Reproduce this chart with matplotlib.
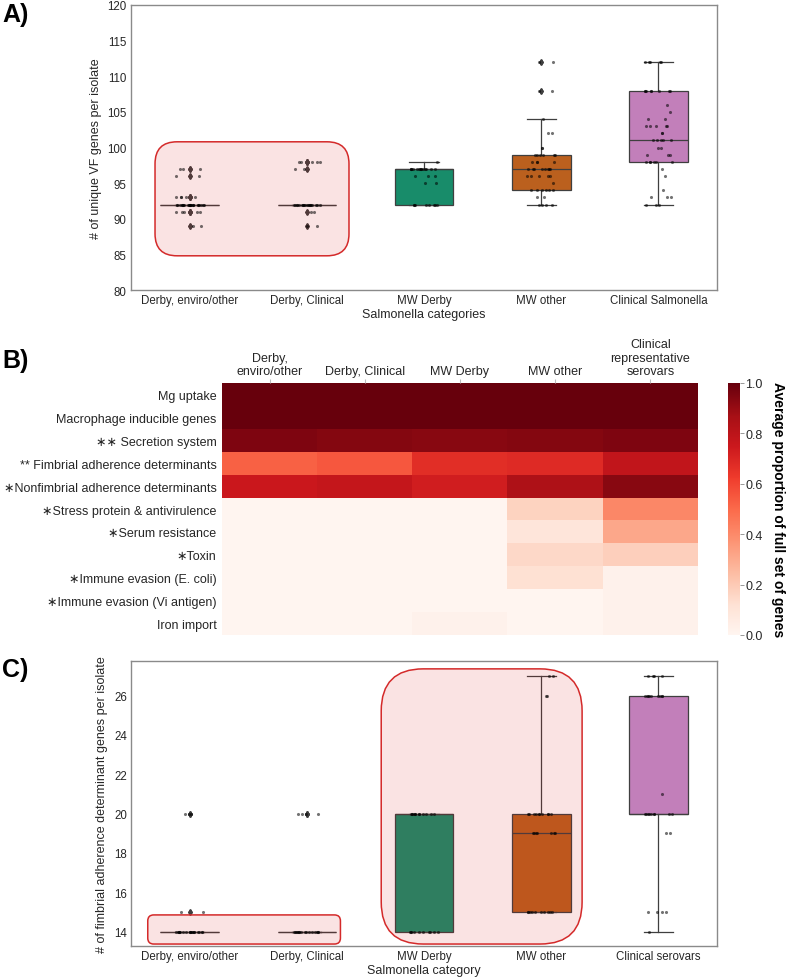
import numpy as np
import matplotlib
matplotlib.use("Agg")
import matplotlib.pyplot as plt
from matplotlib.patches import FancyBboxPatch

plt.rcParams['font.family'] = ['Liberation Sans', 'DejaVu Sans']

# ---------------- Data ----------------
# Panel A: unique VF genes per isolate (value / count pairs)
a_categories = ["Derby, enviro/other", "Derby, Clinical", "MW Derby", "MW other", "Clinical Salmonella"]
a_values = [
    [89, 91, 92, 93, 96, 97],
    [89, 91, 92, 97, 98],
    [92, 95, 96, 97, 98],
    [92, 93, 94, 95, 96, 97, 98, 99, 100, 102, 104, 108, 112],
    [92, 93, 94, 96, 97, 98, 99, 100, 101, 102, 103, 104, 105, 106, 108, 112],
]
a_counts = [
    [2, 5, 25, 5, 2, 3],
    [2, 2, 20, 2, 5],
    [8, 2, 3, 14, 1],
    [4, 2, 6, 1, 5, 8, 4, 6, 2, 2, 1, 2, 2],
    [3, 3, 1, 1, 1, 6, 3, 2, 5, 2, 5, 2, 1, 1, 8, 5],
]

# Panel B: heatmap of average proportion of full gene set
b_rows = ["Mg uptake", "Macrophage inducible genes", "\u2217\u2217 Secretion system",
          "** Fimbrial adherence determinants", "\u2217Nonfimbrial adherence determinants",
          "\u2217Stress protein & antivirulence", "\u2217Serum resistance", "\u2217Toxin",
          "\u2217Immune evasion (E. coli)", "\u2217Immune evasion (Vi antigen)", "Iron import"]
b_cols = ["Derby,\nenviro/other", "Derby, Clinical", "MW Derby", "MW other",
          "Clinical\nrepresentative\nserovars"]
b_values = [
    [1.00, 1.00, 1.00, 1.00, 1.00],
    [1.00, 1.00, 1.00, 1.00, 1.00],
    [0.95, 0.94, 0.93, 0.94, 0.95],
    [0.52, 0.55, 0.67, 0.68, 0.78],
    [0.75, 0.77, 0.73, 0.84, 0.93],
    [0.00, 0.00, 0.00, 0.17, 0.41],
    [0.00, 0.00, 0.00, 0.09, 0.31],
    [0.00, 0.00, 0.00, 0.15, 0.18],
    [0.00, 0.00, 0.00, 0.12, 0.02],
    [0.00, 0.00, 0.00, 0.00, 0.02],
    [0.00, 0.00, 0.02, 0.00, 0.02],
]

# Panel C: fimbrial adherence determinant genes per isolate
c_categories = ["Derby, enviro/other", "Derby, Clinical", "MW Derby", "MW other", "Clinical serovars"]
c_values = [[14, 15, 20], [14, 20], [14, 20], [15, 19, 20, 26, 27], [14, 15, 19, 20, 21, 26, 27]]
c_counts = [[20, 2, 3], [16, 4], [10, 12], [10, 7, 10, 2, 2], [1, 4, 2, 9, 1, 9, 4]]

box_colors = ["#188c6a", "#bb601e", "#c27fba"]  # for MW Derby, MW other, Clinical

# ---------------- Figure ----------------
W, H = 795, 979
fig = plt.figure(figsize=(W / 100, H / 100), dpi=100)

def frac(l, t, r, b):
    return [l / W, 1 - b / H, (r - l) / W, (b - t) / H]

TXT = "#262626"
SPINE = "#8a8a8a"
EDGE = "#3f3f3f"

def box_strip(ax, cats, values, counts, jitter_seed):
    data = [np.repeat(v, c) for v, c in zip(values, counts)]
    pos = np.arange(len(cats))
    bp = ax.boxplot(data, positions=pos, widths=0.5, patch_artist=True,
                    whis=1.5, manage_ticks=False,
                    boxprops=dict(edgecolor=EDGE, linewidth=0.9),
                    medianprops=dict(color=EDGE, linewidth=0.9),
                    whiskerprops=dict(color=EDGE, linewidth=0.9),
                    capprops=dict(color=EDGE, linewidth=0.9),
                    flierprops=dict(marker='d', markersize=2.8, markerfacecolor=EDGE,
                                    markeredgecolor=EDGE, linestyle='none'))
    fills = ["white", "white"] + box_colors
    for patch, fc in zip(bp['boxes'], fills):
        patch.set_facecolor(fc)
        patch.set_zorder(2)
    rng = np.random.default_rng(jitter_seed)
    for i, d in enumerate(data):
        xj = i + rng.uniform(-0.12, 0.12, size=len(d))
        ax.scatter(xj, d, s=5, color="black", alpha=0.55, linewidths=0, zorder=5)
    ax.set_xticks(pos)
    ax.set_xticklabels(cats)
    ax.set_xlim(-0.5, len(cats) - 0.5)
    for s in ax.spines.values():
        s.set_color(SPINE)
        s.set_linewidth(1.0)
    ax.tick_params(length=0, labelsize=8.3, colors=TXT, pad=3)

def rounded_box(ax, x0, y0, x1, y1, radius_px):
    p0 = ax.transData.transform((0, 0))
    p1 = ax.transData.transform((1, 1))
    sx = p1[0] - p0[0]
    sy = p1[1] - p0[1]
    r = radius_px / sx
    patch = FancyBboxPatch((x0, y0), x1 - x0, y1 - y0,
                           boxstyle=f"round,pad=0,rounding_size={r}",
                           mutation_aspect=sx / sy,
                           facecolor=(0.86, 0.10, 0.10, 0.12),
                           edgecolor="#d42a2a", linewidth=1.1, zorder=4)
    ax.add_patch(patch)

# ----- Panel A -----
axA = fig.add_axes(frac(131, 6, 717, 291))
box_strip(axA, a_categories, a_values, a_counts, 7)
axA.set_ylim(80, 120)
axA.set_yticks(np.arange(80, 121, 5))
axA.set_ylabel("# of unique VF genes per isolate", fontsize=9, color=TXT, labelpad=4)
axA.set_xlabel("Salmonella categories", fontsize=9, color=TXT, labelpad=1)
rounded_box(axA, -0.295, 84.8, 1.36, 100.8, 22)

# ----- Panel B -----
axB = fig.add_axes(frac(222, 384, 698, 636))
im = axB.imshow(np.array(b_values), cmap="Reds", vmin=0, vmax=1, aspect="auto",
                interpolation="nearest")
axB.xaxis.tick_top()
axB.set_xticks(np.arange(len(b_cols)))
axB.set_xticklabels(b_cols, fontsize=9, color=TXT)
axB.set_yticks(np.arange(len(b_rows)))
axB.set_yticklabels(b_rows, fontsize=9, color=TXT)
axB.tick_params(axis='x', length=3, color="#bbbbbb", pad=1)
axB.tick_params(axis='y', length=0, pad=4)
for s in axB.spines.values():
    s.set_visible(False)

cax = fig.add_axes(frac(728, 384, 740, 636))
cb = fig.colorbar(im, cax=cax)
cb.outline.set_visible(False)
cb.set_ticks(np.arange(0, 1.01, 0.2))
cb.ax.tick_params(labelsize=9, colors=TXT, length=3, width=0.6, pad=1)
cb.ax.tick_params(color="#888888")
cb.set_label("Average proportion of full set of genes", rotation=270, fontsize=10,
             fontweight="bold", color="black", labelpad=16)

# ----- Panel C -----
axC = fig.add_axes(frac(131, 662, 717, 947))
box_strip(axC, c_categories, c_values, c_counts, 11)
axC.set_ylim(13.27, 27.76)
axC.set_yticks(np.arange(14, 27, 2))
axC.set_ylabel("# of fimbrial adherence determinant genes per isolate", fontsize=9,
               color=TXT, labelpad=4)
axC.set_xlabel("Salmonella category", fontsize=9, color=TXT, labelpad=1)
rounded_box(axC, -0.357, 13.37, 1.287, 14.85, 6)
rounded_box(axC, 1.635, 13.37, 3.349, 27.36, 42)

# ----- Panel labels -----
for lab, top in [("A)", 3), ("B)", 349), ("C)", 658)]:
    fig.text(2 / W, 1 - top / H, lab, fontsize=18, fontweight="bold", va="top", ha="left")

fig.savefig("out.png", dpi=100)
